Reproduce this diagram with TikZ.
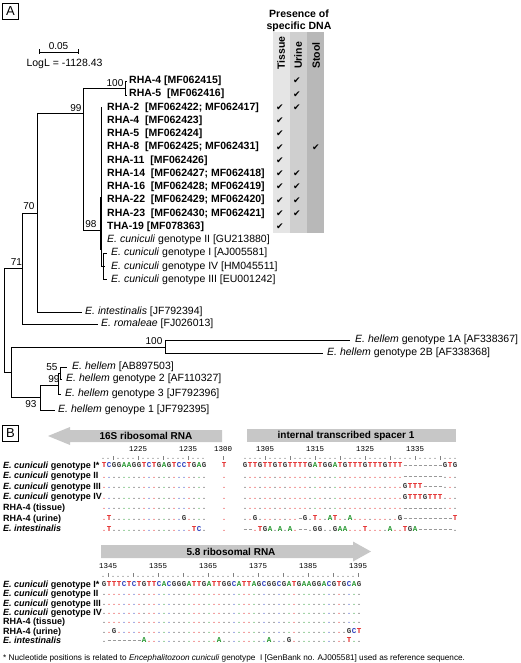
\documentclass[tikz,border=0pt]{standalone}
\usepackage{fontspec}
\setmainfont{Liberation Sans}
\setmonofont{Liberation Mono}
\newfontfamily\symfont{DejaVu Sans}

% base colours of the alignment
\definecolor{baseA}{RGB}{35,150,45}
\definecolor{baseC}{RGB}{45,65,190}
\definecolor{baseG}{RGB}{55,55,55}
\definecolor{baseT}{RGB}{225,30,30}

\newlength\seqw
\setlength\seqw{5pt}
\newcommand\seqfont{\fontsize{7.5}{9}\selectfont\ttfamily\bfseries}
\newcommand\rowy[1]{81+13.25*#1}

% one character of an alignment row per cell
\makeatletter
\def\seq@end{\seq@end}
\newcommand\seqline[1]{\edef\seq@tmp{#1}\expandafter\seq@loop\seq@tmp\seq@end}
\def\seq@loop#1{\ifx#1\seq@end\else\makebox[\seqw]{\csname seq@c@#1\endcsname}\expandafter\seq@loop\fi}
\@namedef{seq@c@A}{\textcolor{baseA}{A}}
\@namedef{seq@c@C}{\textcolor{baseC}{C}}
\@namedef{seq@c@G}{\textcolor{baseG}{G}}
\@namedef{seq@c@T}{\textcolor{baseT}{T}}
\@namedef{seq@c@a}{\textcolor{baseA!80}{.}}
\@namedef{seq@c@c}{\textcolor{baseC!80}{.}}
\@namedef{seq@c@g}{\textcolor{baseG!80}{.}}
\@namedef{seq@c@t}{\textcolor{baseT!80}{.}}
\@namedef{seq@c@.}{\textcolor{black!50}{.}}
\@namedef{seq@c@-}{\textcolor{black!40}{\rule[0.28em]{0.6\seqw}{0.3pt}}}
\@namedef{seq@c@|}{\textcolor{black!50}{\rule{0.4pt}{3.8pt}}}
\@namedef{seq@c@x}{}
\makeatother

\begin{document}
\begin{tikzpicture}[x=1pt, y=-1pt,
    branch/.style={line width=0.8pt},
    treelab/.style={anchor=west, inner sep=0pt, font=\fontsize{10.5}{12}\selectfont},
    rhalab/.style={treelab, font=\fontsize{10.5}{12}\selectfont\bfseries},
    boot/.style={inner sep=0pt, font=\fontsize{10}{12}\selectfont},
    chk/.style={inner sep=0pt, font=\symfont\fontsize{9}{10}\selectfont},
    seqrow/.style={anchor=base west, inner sep=0pt, font=\seqfont},
    seqlab/.style={anchor=base west, inner sep=0pt, font=\fontsize{9}{11}\selectfont\bfseries},
    posnum/.style={anchor=base, inner sep=0pt, font=\fontsize{7.5}{9}\selectfont\ttfamily},
    genebar/.style={fill=black!22},
    genetxt/.style={inner sep=0pt, font=\fontsize{10}{12}\selectfont\bfseries},
    panel/.style={draw, line width=0.6pt, minimum width=16pt, minimum height=16pt, inner sep=0pt, font=\fontsize{13}{15}\selectfont}]
    \useasboundingbox (0,0) rectangle (520,663);

    % Panel letters
    \node[panel] (pA) at (10.5,11.5) {A};
    \node[panel] (pB) at (10.5,433) {B};

    % Scale bar
    \draw[branch] (39,52) -- (78,52);
    \draw[branch] (39,49.5) -- (39,54.5);
    \draw[branch] (78,49.5) -- (78,54.5);
    \node[boot] (sc) at (58.5,46) {0.05};
    \node[boot, font=\fontsize{10.5}{12}\selectfont] (logl) at (64.5,63.5) {LogL = -1128.43};

    % Presence columns
    \fill[black!10] (273,32) rectangle (290,233);
    \fill[black!19] (290,32) rectangle (307,233);
    \fill[black!28] (307,32) rectangle (324,233);
    \node[font=\fontsize{10.5}{12.5}\selectfont\bfseries, align=center, inner sep=0pt] (pres) at (299,21) {Presence of\\specific DNA};
    \node[rotate=90, anchor=west, inner sep=0pt, font=\fontsize{10.5}{12}\selectfont\bfseries] (ctis) at (281,70) {Tissue};
    \node[rotate=90, anchor=west, inner sep=0pt, font=\fontsize{10.5}{12}\selectfont\bfseries] (curi) at (298,69) {Urine};
    \node[rotate=90, anchor=west, inner sep=0pt, font=\fontsize{10.5}{12}\selectfont\bfseries] (csto) at (316,69) {Stool};
    \foreach \i/\cx in {0/297, 1/297, 2/280, 2/297, 3/280, 4/280, 5/280, 5/316, 6/280,
        7/280, 7/297, 8/280, 8/297, 9/280, 9/297, 10/280, 10/297, 11/280}
        \node[chk] (chk\i-\cx) at (\cx,{\rowy{\i}}) {✔};

    % Tree: E. cuniculi clade
    \draw[branch] (4,268) -- (4,372);
    \draw[branch] (4,268) -- (22,268);
    \draw[branch] (4,372) -- (11,372);
    \draw[branch] (22,213) -- (22,324);
    \draw[branch] (22,213) -- (37,213);
    \draw[branch] (22,324) -- (98,324);
    \draw[branch] (37,113) -- (37,312);
    \draw[branch] (37,113) -- (83,113);
    \draw[branch] (37,312) -- (82,312);
    \draw[branch] (83,88) -- (83,230);
    \draw[branch] (83,88) -- (125,88);
    \draw[branch] (83,230) -- (101,230);
    \draw[branch] (125,81) -- (125,95);
    \draw[branch] (125,81) -- (127,81);
    \draw[branch] (125,95) -- (127,95);
    \draw[branch] (101,{\rowy{2}}) -- (101,{\rowy{14}});
    \draw[line width=1.6pt] (101,197) -- (101,250);
    \draw[branch] (101,{\rowy{14}}) -- (103,{\rowy{14}});
    \draw[branch] (103,{\rowy{13}}) -- (103,{\rowy{15}});
    \draw[branch] (103,{\rowy{13}}) -- (107,{\rowy{13}});
    \draw[branch] (103,{\rowy{14}}) -- (105,{\rowy{14}});
    \draw[branch] (103,{\rowy{15}}) -- (107,{\rowy{15}});

    % Tree: E. hellem clade
    \draw[branch] (11,347) -- (11,397);
    \draw[branch] (11,347) -- (165,347);
    \draw[branch] (11,397) -- (40,397);
    \draw[branch] (165,340) -- (165,353);
    \draw[branch] (165,340) -- (350,340);
    \draw[branch] (165,353) -- (323,353);
    \draw[branch] (40,385) -- (40,410);
    \draw[branch] (40,385) -- (58,385);
    \draw[branch] (40,410) -- (55,410);
    \draw[branch] (58,373) -- (58,394);
    \draw[branch] (58,373) -- (60,373);
    \draw[branch] (58,394) -- (61,394);
    \draw[branch] (60,367) -- (60,379);
    \draw[branch] (60,367) -- (67,367);
    \draw[branch] (60,379) -- (62,379);

    % Bootstrap values
    \node[boot] (b100a) at (115,83) {100};
    \node[boot] (b99a) at (76,108) {99};
    \node[boot] (b98) at (91,224) {98};
    \node[boot] (b70) at (29,206) {70};
    \node[boot] (b71) at (16.5,262) {71};
    \node[boot] (b100b) at (154,341) {100};
    \node[boot] (b55) at (52,367) {55};
    \node[boot] (b99b) at (54,379) {99};
    \node[boot] (b93) at (31,404) {93};

    % Tip labels
    \node[rhalab] (rha0) at (129,{\rowy{0}}) {RHA-4 [MF062415]};
    \node[rhalab] (rha1) at (129,{\rowy{1}}) {RHA-5~~[MF062416]};
    \foreach \i/\txt in {2/{RHA-2~~[MF062422; MF062417]}, 3/{RHA-4~~[MF062423]},
        4/{RHA-5~~[MF062424]}, 5/{RHA-8~~[MF062425; MF062431]}, 6/{RHA-11~~[MF062426]},
        7/{RHA-14~~[MF062427; MF062418]}, 8/{RHA-16~~[MF062428; MF062419]},
        9/{RHA-22~~[MF062429; MF062420]}, 10/{RHA-23~~[MF062430; MF062421]},
        11/{THA-19 [MF078363]}}
        \node[rhalab] (rha\i) at (107,{\rowy{\i}}) {\txt};
    \node[treelab] (ec2) at (107,{\rowy{12}}) {\textit{E. cuniculi} genotype II [GU213880]};
    \node[treelab] (ec1) at (111,{\rowy{13}}) {\textit{E. cuniculi} genotype I [AJ005581]};
    \node[treelab] (ec4) at (111,{\rowy{14}}) {\textit{E. cuniculi} genotype IV [HM045511]};
    \node[treelab] (ec3) at (111,{\rowy{15}}) {\textit{E. cuniculi} genotype III [EU001242]};
    \node[treelab] (eint) at (85,312) {\textit{E. intestinalis} [JF792394]};
    \node[treelab] (erom) at (101,324) {\textit{E. romaleae} [FJ026013]};
    \node[treelab] (eh1a) at (355,340) {\textit{E. hellem} genotype 1A [AF338367]};
    \node[treelab] (eh2b) at (327,353) {\textit{E. hellem} genotype 2B [AF338368]};
    \node[treelab] (ehab) at (72,367) {\textit{E. hellem} [AB897503]};
    \node[treelab] (eh2) at (66,379) {\textit{E. hellem} genotype 2 [AF110327]};
    \node[treelab] (eh3) at (65,394) {\textit{E. hellem} genotype 3 [JF792396]};
    \node[treelab] (eh1) at (58,410) {\textit{E. hellem} genoype 1 [JF792395]};

    % Gene bars
    \fill[genebar] (48,436) -- (70,427) -- (70,430) -- (222,430) -- (222,442) -- (70,442) -- (70,445) -- cycle;
    \fill[genebar] (247,429) rectangle (456,442);
    \fill[genebar] (101,545) -- (353,545) -- (353,541.5) -- (371,551.5) -- (353,561.5) -- (353,558) -- (101,558) -- cycle;
    \node[genetxt] (g16) at (146,436) {16S ribosomal RNA};
    \node[genetxt] (gits) at (346,436) {internal transcribed spacer 1};
    \node[genetxt] (g58) at (231,551.5) {5.8 ribosomal RNA};

    % Positions and rulers
    \node[posnum] (p1225) at (138,451) {1225};
    \node[posnum] (p1235) at (188,451) {1235};
    \node[posnum] (p1300) at (223,451) {1300};
    \foreach \p [count=\k from 0] in {1305,1315,1325,1335}
        \node[posnum] (p\p) at ({265+50*\k},451) {\p};
    \foreach \p [count=\k from 0] in {1345,1355,1365,1375,1385,1395}
        \node[posnum] (p\p) at ({108+50*\k},568) {\p};
    \node[seqrow] (r16) at (100.5,459.5) {\seqline{..|....|....|....|...xxx|}};
    \node[seqrow] (rits) at (242.5,459.5) {\seqline{....|....|....|....|....|....|....|....|...}};
    \node[seqrow] (r58) at (100.5,577) {\seqline{.|....|....|....|....|....|....|....|....|....|....|}};

    % Alignment 16S / ITS1
    \foreach \lab [count=\k from 0] in {{\textit{E. cuniculi} genotype I*}, {\textit{E. cuniculi} genotype II},
        {\textit{E. cuniculi} genotype III}, {\textit{E. cuniculi} genotype IV}, {RHA-4 (tissue)},
        {RHA-4 (urine)}, {\textit{E. intestinalis}}}
    {
        \node[seqlab] (la\k) at (3,{468+10.6*\k}) {\lab};
        \node[seqlab] (lb\k) at (3,{587.5+9.35*\k}) {\lab};
    }
    \foreach \sa/\sb [count=\k from 0] in {
        TCGGAAGGTCTGAGTCCTGAGxxxT/GTTGTTGTGTTTTGATGGATGTTTGTTTGTTT--------GTG,
        tcggaaggtctgagtcctgagxxxt/gttgttgtgttttgatggatgtttgtttgttt--------gtg,
        tcggaaggtctgagtcctgagxxxt/gttgttgtgttttgatggatgtttgtttgtttGTTT----gtg,
        tcggaaggtctgagtcctgagxxxt/gttgttgtgttttgatggatgtttgtttgtttGTTTGTTTgtg,
        tcggaaggtctgagtcctgagxxxt/gttgttgtgttttgatggatgtttgtttgttt--------gtg,
        tTggaaggtctgagtcGtgagxxxt/gtGgttgtgtt-GgTtgATtgAtttgtttgtG----------T,
        tTggaaggtctgagtcctTCgxxxt/--tTGAgAgAt--gGGggGAAtttTtttgAttTGA-------g}
    {
        \node[seqrow] (sa\k) at (101.5,{467.5+10.6*\k}) {\seqline{\sa}};
        \node[seqrow] (sb\k) at (242.5,{467.5+10.6*\k}) {\seqline{\sb}};
    }

    % Alignment 5.8S
    \foreach \sc [count=\k from 0] in {
        GTTTCTCTGTTCACGGGATTGATTGGCATTAGCGGCGATGAAGGACGTGCAG,
        gtttctctgttcacgggattgattggcattagcggcgatgaaggacgtgcag,
        gtttctctgttcacgggattgattggcattagcggcgatgaaggacgtgcag,
        gtttctctgttcacgggattgattggcattagcggcgatgaaggacgtgcag,
        gtttctctgttcacgggattgattggcattagcggcgatgaaggacgtgcag,
        gtGtctctgttcacgggattgattggcattagcggcgatgaaggacgtgGCT,
        g-------AttcacgggattgatAggcattagcAgcgGtgaaggacgtgTag}
        \node[seqrow] (sc\k) at (101.5,{586.5+9.35*\k}) {\seqline{\sc}};

    % Footnote
    \node[anchor=base west, inner sep=0pt, font=\fontsize{8.2}{10}\selectfont] (foot) at (3,660)
        {* Nucleotide positions is related to \textit{Encephalitozoon cuniculi} genotype\ \ I [GenBank no. AJ005581] used as reference sequence.};
\end{tikzpicture}
\end{document}
